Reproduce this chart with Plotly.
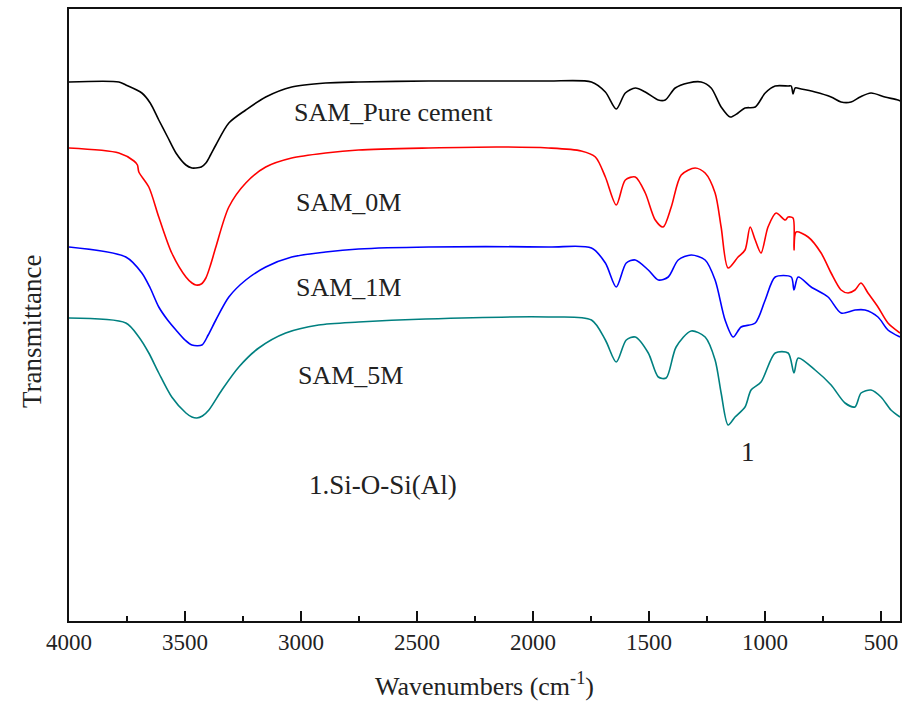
import plotly.graph_objects as go

# Wavenumbers (cm-1) and transmittance (arbitrary units, offset spectra)
pure_wn = [4000, 3785, 3755, 3686, 3650, 3613, 3575, 3539, 3496, 3470, 3453, 3430, 3410, 3390, 3367, 3311, 3238,
           3152, 3040, 2894, 2752, 2450, 2149, 1934, 1748, 1688, 1641, 1602, 1559, 1516, 1460, 1430, 1387, 1331,
           1275, 1232, 1189, 1150, 1116, 1086, 1042, 999, 956, 900, 887, 879, 870, 844, 784, 715, 672, 629, 590,
           543, 483, 427, 418]
pure_t = [539, 539, 536, 528, 518, 501, 484, 468, 456, 453, 453, 454, 458, 466, 476, 498, 511,
          524, 534, 538, 539, 540, 540, 540, 539, 529, 512, 528, 533, 529, 521, 521, 533, 538,
          539, 533, 514, 504, 508, 513, 514, 528, 535, 535, 535, 527, 533, 532, 529, 524, 519, 519, 524,
          528, 524, 521, 520]

m0_wn = [4000, 3785, 3720, 3705, 3699, 3656, 3613, 3557, 3496, 3470, 3453, 3430, 3410, 3390, 3367, 3311, 3238,
         3152, 3040, 2894, 2752, 2450, 2149, 1934, 1792, 1731, 1688, 1641, 1602, 1559, 1516, 1473, 1439, 1404,
         1361, 1301, 1258, 1215, 1189, 1159, 1116, 1086, 1064, 1042, 1017, 987, 952, 913, 900, 879, 875, 866,
         814, 758, 715, 672, 642, 612, 586, 556, 513, 470, 418]
m0_t = [473, 468, 460, 456, 449, 434, 404, 368, 344, 338, 336, 337, 343, 356, 374, 414, 438,
        454, 463, 468, 471, 473, 474, 473, 470, 464, 444, 416, 441, 444, 428, 401, 394, 414,
        446, 453, 448, 428, 394, 353, 364, 371, 394, 381, 368, 394, 408, 401, 404, 403, 371, 389,
        384, 368, 348, 331, 328, 331, 338, 328, 314, 298, 288]

m1_wn = [4000, 3755, 3686, 3650, 3613, 3575, 3539, 3500, 3470, 3427, 3400, 3367, 3311, 3238, 3152, 3040, 2894,
         2752, 2450, 1934, 1748, 1688, 1641, 1598, 1559, 1503, 1460, 1417, 1374, 1318, 1258, 1215, 1172, 1137,
         1103, 1042, 999, 956, 887, 875, 857, 801, 728, 672, 612, 569, 513, 470, 418]
m1_t = [374, 364, 348, 333, 314, 301, 291, 281, 276, 276, 286, 301, 324, 341, 354, 364, 369,
        372, 374, 374, 373, 358, 334, 358, 361, 351, 341, 344, 361, 366, 361, 341, 301, 284,
        294, 298, 321, 344, 344, 331, 344, 334, 324, 308, 311, 311, 304, 291, 284]

m5_wn = [4000, 3755, 3699, 3656, 3613, 3557, 3496, 3470, 3449, 3425, 3397, 3341, 3268, 3182, 3066, 2924, 2752,
         2463, 1934, 1748, 1688, 1641, 1598, 1559, 1503, 1460, 1426, 1383, 1318, 1258, 1215, 1189, 1159, 1129,
         1086, 1060, 1017, 956, 900, 875, 857, 784, 715, 655, 612, 586, 543, 500, 457, 418]
m5_t = [303, 298, 284, 268, 248, 224, 208, 204, 203, 205, 211, 231, 254, 273, 288, 296, 299,
        302, 304, 301, 281, 259, 281, 284, 268, 244, 243, 274, 290, 284, 261, 228, 196, 204,
        214, 231, 239, 268, 268, 248, 263, 251, 236, 218, 214, 228, 231, 224, 211, 204]

series = [
    ("SAM_Pure cement", pure_wn, pure_t, "#000000"),
    ("SAM_0M", m0_wn, m0_t, "#FF0000"),
    ("SAM_1M", m1_wn, m1_t, "#0000FF"),
    ("SAM_5M", m5_wn, m5_t, "#008080"),
]

FONT = "Liberation Serif, Times New Roman, serif"

fig = go.Figure()
for name, x, y, c in series:
    fig.add_trace(go.Scatter(x=x, y=y, mode="lines", name=name,
                             line=dict(color=c, width=1.6, shape="spline", smoothing=0.8),
                             showlegend=False))

labels = [
    ("SAM_Pure cement", 2601, 509, 26),
    ("SAM_0M", 2795, 419, 26),
    ("SAM_1M", 2795, 334, 26),
    ("SAM_5M", 2787, 246, 26),
    ("1.Si-O-Si(Al)", 2646, 136, 27),
    ("1", 1073, 169, 27),
]
for text, x, y, s in labels:
    fig.add_annotation(x=x, y=y, text=text, showarrow=False,
                       font=dict(family=FONT, size=s, color="#222"))

# y-axis title placed as rotated text
fig.add_annotation(xref="paper", yref="paper", x=0, y=0.474, xshift=-54,
                   text="Transmittance", textangle=-90, showarrow=False,
                   font=dict(family=FONT, size=27, color="#222"))

fig.update_layout(
    width=903, height=710,
    margin=dict(l=69, r=1, t=9, b=89),
    plot_bgcolor="white", paper_bgcolor="white",
    font=dict(family=FONT, color="#222"),
)
fig.update_xaxes(
    range=[4000, 418], showgrid=False, zeroline=False,
    showline=True, linecolor="#111", linewidth=1.5, mirror=True,
    tickmode="array", tickvals=[4000, 3500, 3000, 2500, 2000, 1500, 1000, 500],
    ticks="inside", ticklen=10, tickwidth=1.5, tickcolor="#111",
    minor=dict(ticks="inside", ticklen=5, tickwidth=1.5, tickcolor="#111",
               tickvals=[3750, 3250, 2750, 2250, 1750, 1250, 750]),
    tickfont=dict(family=FONT, size=23, color="#222"),
    title=dict(text="Wavenumbers (cm<sup>-1</sup>)", font=dict(family=FONT, size=26, color="#222"), standoff=22),
)
fig.update_yaxes(
    range=[0, 612], showgrid=False, zeroline=False,
    showline=True, linecolor="#111", linewidth=1.5, mirror=True,
    showticklabels=False, ticks="",
)

fig.write_html("out.html")
